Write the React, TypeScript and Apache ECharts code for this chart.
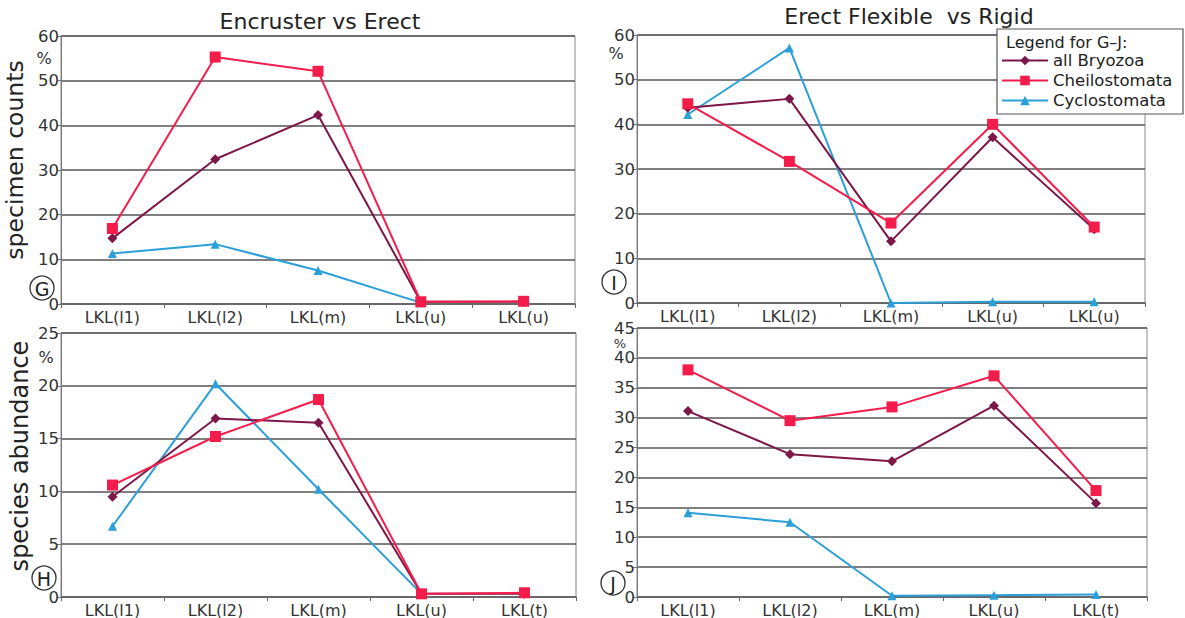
import React, { useEffect, useRef } from "react";
import * as echarts from "echarts";

const categoriesTop = ["LKL(l1)", "LKL(l2)", "LKL(m)", "LKL(u)", "LKL(u)"];
const categoriesBottom = ["LKL(l1)", "LKL(l2)", "LKL(m)", "LKL(u)", "LKL(t)"];

const seriesNames = ["all Bryozoa", "Cheilostomata", "Cyclostomata"];

// Panel G: Encruster vs Erect, specimen counts
const gBryozoa = [14.7, 32.4, 42.3, 0.5, 0.5];
const gCheilo = [16.9, 55.3, 52.1, 0.5, 0.6];
const gCyclo = [11.3, 13.4, 7.5, 0.3, null];

// Panel I: Erect Flexible vs Rigid, specimen counts
const iBryozoa = [43.7, 45.7, 13.8, 37.1, 16.5];
const iCheilo = [44.6, 31.7, 17.9, 40.0, 17.0];
const iCyclo = [42.2, 57.1, 0, 0.3, 0.3];

// Panel H: Encruster vs Erect, species abundance
const hBryozoa = [9.5, 16.9, 16.5, 0.3, 0.3];
const hCheilo = [10.6, 15.2, 18.7, 0.3, 0.4];
const hCyclo = [6.7, 20.2, 10.2, 0.3, null];

// Panel J: Erect Flexible vs Rigid, species abundance
const jBryozoa = [31.1, 23.9, 22.7, 32.0, 15.7];
const jCheilo = [38.0, 29.5, 31.8, 37.0, 17.8];
const jCyclo = [14.1, 12.5, 0.2, 0.3, 0.4];

const yMax = [60, 60, 25, 45];
const yInterval = [10, 10, 5, 5];

const FONT = "DejaVu Sans";
const C_BRY = "#7d1747";
const C_CHE = "#f41c4b";
const C_CYC = "#2a9fd8";

export default function App() {
  const ref = useRef<HTMLDivElement>(null);

  useEffect(() => {
    if (!ref.current) return;
    const chart = echarts.init(ref.current, null, { renderer: "svg" });

    const grids = [
      { left: 61, top: 36, width: 514, height: 268 },
      { left: 637, top: 35, width: 508, height: 268 },
      { left: 61, top: 333, width: 515, height: 268 },
      { left: 637, top: 328, width: 510, height: 269 },
    ].map((g) => ({
      ...g,
      show: true,
      borderColor: "#888",
      borderWidth: 1,
      backgroundColor: "transparent",
    }));

    const cats = [categoriesTop, categoriesTop, categoriesBottom, categoriesBottom];

    const xAxis = cats.map((c, i) => ({
      type: "category",
      gridIndex: i,
      data: c,
      boundaryGap: true,
      axisLine: { show: true, lineStyle: { color: "#666", width: 1.5 } },
      axisTick: { show: true, length: 4, lineStyle: { color: "#666" } },
      axisLabel: { fontFamily: FONT, fontSize: 16, color: "#333", margin: 5 },
    }));

    const yAxis = yMax.map((m, i) => ({
      type: "value",
      gridIndex: i,
      min: 0,
      max: m,
      interval: yInterval[i],
      axisLine: { show: true, lineStyle: { color: "#777", width: 1 } },
      axisTick: { show: true, length: 4, lineStyle: { color: "#777" } },
      axisLabel: { fontFamily: FONT, fontSize: 16.5, color: "#333", margin: 2 },
      splitLine: { show: true, lineStyle: { color: "#555", width: 1.6 } },
    }));

    const panels = [
      [gBryozoa, gCheilo, gCyclo],
      [iBryozoa, iCheilo, iCyclo],
      [hBryozoa, hCheilo, hCyclo],
      [jBryozoa, jCheilo, jCyclo],
    ];
    const styles = [
      { color: C_BRY, symbol: "diamond", symbolSize: 10, z: 3 },
      { color: C_CHE, symbol: "rect", symbolSize: 11, z: 4 },
      { color: C_CYC, symbol: "triangle", symbolSize: 9, z: 2 },
    ];

    const series: any[] = [];
    panels.forEach((p, gi) => {
      p.forEach((d, si) => {
        const st = styles[si];
        series.push({
          type: "line",
          name: seriesNames[si],
          xAxisIndex: gi,
          yAxisIndex: gi,
          data: d,
          symbol: st.symbol,
          symbolSize: st.symbolSize,
          showSymbol: true,
          connectNulls: false,
          z: st.z,
          itemStyle: { color: st.color },
          lineStyle: { color: st.color, width: 2 },
        });
      });
    });

    const circled = (x: number, y: number, letter: string) => [
      {
        type: "circle",
        shape: { cx: x, cy: y, r: 12 },
        style: { fill: "none", stroke: "#333", lineWidth: 1.3 },
        z: 10,
      },
      {
        type: "text",
        x,
        y: y + 1,
        style: {
          text: letter,
          fontFamily: FONT,
          fontSize: 19,
          fill: "#222",
          align: "center",
          verticalAlign: "middle",
        },
        z: 10,
      },
    ];

    const pct = (x: number, y: number, size: number) => ({
      type: "text",
      x,
      y,
      style: {
        text: "%",
        fontFamily: FONT,
        fontSize: size,
        fill: "#333",
        align: "center",
        verticalAlign: "middle",
      },
      z: 10,
    });

    const graphic: any[] = [
      {
        type: "text",
        x: 320,
        y: 21,
        style: {
          text: "Encruster vs Erect",
          fontFamily: FONT,
          fontSize: 22,
          fill: "#222",
          align: "center",
          verticalAlign: "middle",
        },
      },
      {
        type: "text",
        x: 909,
        y: 16,
        style: {
          text: "Erect Flexible  vs Rigid",
          fontFamily: FONT,
          fontSize: 22,
          fill: "#222",
          align: "center",
          verticalAlign: "middle",
        },
      },
      {
        type: "text",
        x: 15,
        y: 160,
        rotation: Math.PI / 2,
        style: {
          text: "specimen counts",
          fontFamily: FONT,
          fontSize: 23.5,
          fill: "#222",
          align: "center",
          verticalAlign: "middle",
        },
      },
      {
        type: "text",
        x: 20,
        y: 456,
        rotation: Math.PI / 2,
        style: {
          text: "species abundance",
          fontFamily: FONT,
          fontSize: 24,
          fill: "#222",
          align: "center",
          verticalAlign: "middle",
        },
      },
      pct(44, 58, 16),
      pct(616, 53, 16),
      pct(46, 357, 16),
      pct(620, 343, 13),
      ...circled(42, 288, "G"),
      ...circled(614, 282, "I"),
      ...circled(44, 578, "H"),
      ...circled(613, 583, "J"),
      {
        type: "rect",
        shape: { x: 997, y: 29, width: 186, height: 85 },
        style: { fill: "#fff", stroke: "#555", lineWidth: 1.2 },
        z: 20,
      },
      {
        type: "text",
        x: 1006,
        y: 42,
        style: {
          text: "Legend for G–J:",
          fontFamily: FONT,
          fontSize: 16,
          fill: "#222",
          verticalAlign: "middle",
        },
        z: 21,
      },
    ];

    chart.setOption({
      animation: false,
      backgroundColor: "#fff",
      textStyle: { fontFamily: FONT },
      grid: grids,
      xAxis,
      yAxis,
      series,
      legend: {
        data: seriesNames,
        orient: "vertical",
        left: 1001,
        top: 52,
        itemGap: 3,
        itemWidth: 46,
        itemHeight: 12,
        padding: 0,
        z: 30,
        textStyle: { fontFamily: FONT, fontSize: 16.5, color: "#222" },
        selectedMode: false,
      },
      graphic,
    });

    return () => chart.dispose();
  }, []);

  return (
    <div
      ref={ref}
      style={{ position: "fixed", left: 0, top: 0, width: 1185, height: 618 }}
    />
  );
}
